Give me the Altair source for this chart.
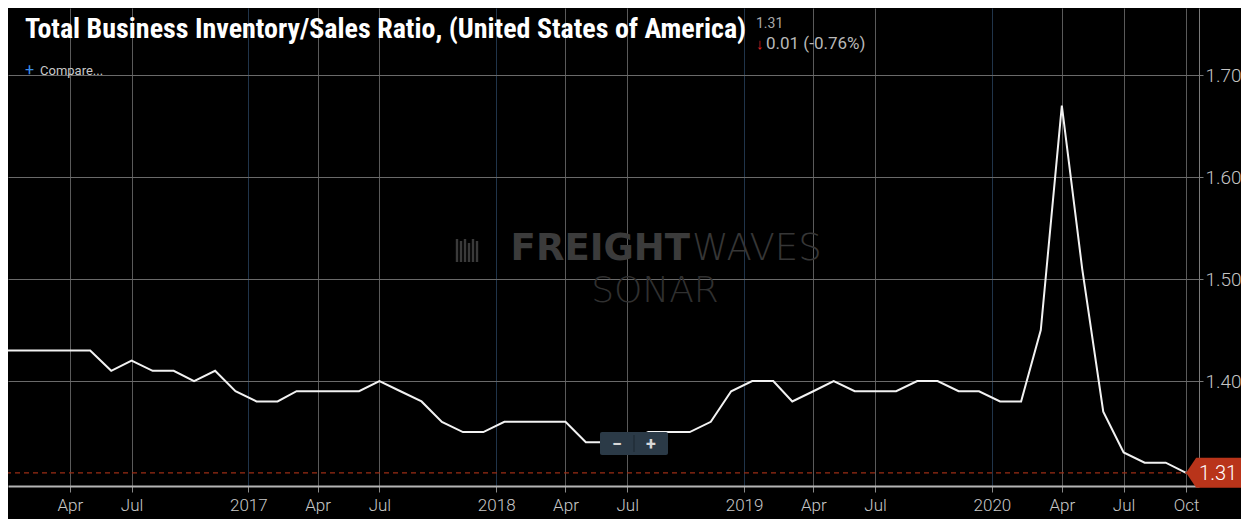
import altair as alt
import pandas as pd

# ---------------- data ----------------
months = pd.date_range("2016-01-01", "2020-10-01", freq="MS")
ratio = [
    1.43, 1.43, 1.43, 1.43, 1.43, 1.41, 1.42, 1.41, 1.41, 1.40, 1.41, 1.39,   # 2016
    1.38, 1.38, 1.39, 1.39, 1.39, 1.39, 1.40, 1.39, 1.38, 1.36, 1.35, 1.35,   # 2017
    1.36, 1.36, 1.36, 1.36, 1.34, 1.34, 1.34, 1.35, 1.35, 1.35, 1.36, 1.39,   # 2018
    1.40, 1.40, 1.38, 1.39, 1.40, 1.39, 1.39, 1.39, 1.40, 1.40, 1.39, 1.39,   # 2019
    1.38, 1.38, 1.45, 1.67, 1.51, 1.37, 1.33, 1.32, 1.32, 1.31,               # 2020
]
y_ticks = [1.40, 1.50, 1.60, 1.70]
title_text = "Total Business Inventory/Sales Ratio, (United States of America)"

df = pd.DataFrame({"date": [d.strftime("%Y-%m-%dT00:00:00") for d in months], "ratio": ratio})
last = df.tail(1)
one = pd.DataFrame({"k": [0]})

last_val = ratio[-1]
chg = ratio[-1] - ratio[-2]
pct = chg / ratio[-2] * 100
chg_text = f"{abs(chg):.2f} ({pct:.2f}%)"

W, H = 1191, 478

x_ticks = []
for yr in range(2016, 2021):
    x_ticks.append(alt.DateTime(year=yr - 1, month=12, date=20))
    x_ticks.append(alt.DateTime(year=yr, month=4, date=1))
    x_ticks.append(alt.DateTime(year=yr, month=7, date=1))
x_ticks.append(alt.DateTime(year=2020, month=10, date=1))

x_scale = alt.Scale(domain=[alt.DateTime(year=2016, month=1, date=1),
                            alt.DateTime(year=2020, month=10, date=20)], nice=False)
y_scale = alt.Scale(domain=[1.2971, 1.7657], zero=False, nice=False)

x_axis = alt.Axis(
    values=x_ticks,
    labelExpr="month(datum.value) == 11 ? '' + (year(datum.value) + 1) : timeFormat(datum.value, '%b')",
    grid=True,
    gridColor={"condition": {"test": "month(datum.value) == 11", "value": "#20344a"}, "value": "#5a5a5a"},
    gridWidth=1,
    domainColor="#b4b4b4", domainWidth=2,
    tickColor="#8a8a8a", tickSize=6,
    labelColor="#c8c8c8", labelFontSize=17, labelFont="Roboto", labelFontWeight=300,
    labelPadding=5, labelOverlap=False, title=None,
)
y_axis = alt.Axis(
    orient="right", values=y_ticks, format=".2f",
    grid=True, gridColor="#6a6a6a", gridWidth=1,
    domainColor="#7a7a7a", domainWidth=1,
    tickColor="#7a7a7a", tickSize=4,
    labelColor="#c4c4c4", labelFontSize=19, labelFont="Roboto", labelFontWeight=300,
    labelPadding=2, title=None,
)

base = alt.Chart(df)

line = base.mark_line(color="#f2f2f2", strokeWidth=2, clip=True).encode(
    x=alt.X("date:T", scale=x_scale, axis=x_axis),
    y=alt.Y("ratio:Q", scale=y_scale, axis=y_axis),
)

last_rule = alt.Chart(last).mark_rule(color="#9a2c14", strokeDash=[5, 4], strokeWidth=1.2).encode(
    y="ratio:Q"
)

tag_path = "M -1 0 L -0.64 -0.536 L 1 -0.536 L 1 0.536 L -0.64 0.536 Z"
tag = alt.Chart(last).mark_point(
    shape=tag_path, size=3136, filled=True, fill="#b9341a", opacity=1, strokeWidth=0, xOffset=28
).encode(x="date:T", y="ratio:Q")
tag_text = alt.Chart(last).mark_text(
    align="left", baseline="middle", dx=13, dy=1, fontSize=20, font="Roboto", fontWeight=300, color="#ffffff"
).encode(x="date:T", y="ratio:Q", text=alt.Text("ratio:Q", format=".2f"))

# ---------------- header texts ----------------
def txt(s, x, y, size, color, weight="normal", font="Roboto", align="left"):
    return alt.Chart(one).mark_text(
        text=s, align=align, baseline="alphabetic", fontSize=size, fontWeight=weight,
        font=font, color=color
    ).encode(x=alt.value(x), y=alt.value(y))

title = txt(title_text, 17, 30, 28, "#ffffff", "bold",
            font="Roboto Condensed, Liberation Sans Narrow, Arial Narrow, Roboto")
val_small = txt(f"{last_val:.2f}", 748, 20, 14, "#a8a8a8")
arrow = txt("\u2193", 748, 41, 15, "#e02020", "bold")
chg_small = txt(chg_text, 758, 41, 17, "#b8b8b8")
plus = txt("+", 17, 67, 16, "#3a8ee8")
compare = txt("Compare...", 32, 67, 13, "#c8c8c8")

# ---------------- watermark ----------------
wm_freight = txt("FREIGHT", 682, 252, 37, "#3b3b3b", "bold", font="DejaVu Sans", align="right")
wm_waves = txt("WAVES", 684, 252, 37, "#363636", 200, font="DejaVu Sans")
wm_sonar = txt("SONAR", 647, 294, 36, "#303030", 200, font="DejaVu Sans", align="center")
stripe_x = [449, 453, 457, 461, 465, 469]
stripe_top = [231, 233, 231, 235, 231, 233]
wm_icon = [
    alt.Chart(one).mark_rule(color="#3a3a3a", strokeWidth=2.4).encode(
        x=alt.value(sx), y=alt.value(st), y2=alt.value(254)
    )
    for sx, st in zip(stripe_x, stripe_top)
]

# ---------------- zoom widget ----------------
widget = alt.Chart(one).mark_rect(color="#2b3a47", cornerRadius=2).encode(
    x=alt.value(592), x2=alt.value(660), y=alt.value(424), y2=alt.value(447)
)
widget_sep = alt.Chart(one).mark_rule(color="#1c2731", strokeWidth=1).encode(
    x=alt.value(626), y=alt.value(427), y2=alt.value(444)
)
w_minus = txt("\u2212", 609, 442, 18, "#d8d8d8", "bold", align="center")
w_plus = txt("+", 643, 442, 18, "#d8d8d8", "bold", align="center")

chart = alt.layer(
    *wm_icon, wm_freight, wm_waves, wm_sonar,
    line, last_rule, tag, tag_text,
    widget, widget_sep, w_minus, w_plus,
    title, val_small, arrow, chg_small, plus, compare,
).properties(
    width=W, height=H, background="#000000",
    padding={"left": 0, "top": 0, "right": 42, "bottom": 33},
    autosize=alt.AutoSizeParams(type="none"),
).configure_view(stroke=None)

chart.save("out.html", embed_options={"renderer": "svg", "actions": False})
